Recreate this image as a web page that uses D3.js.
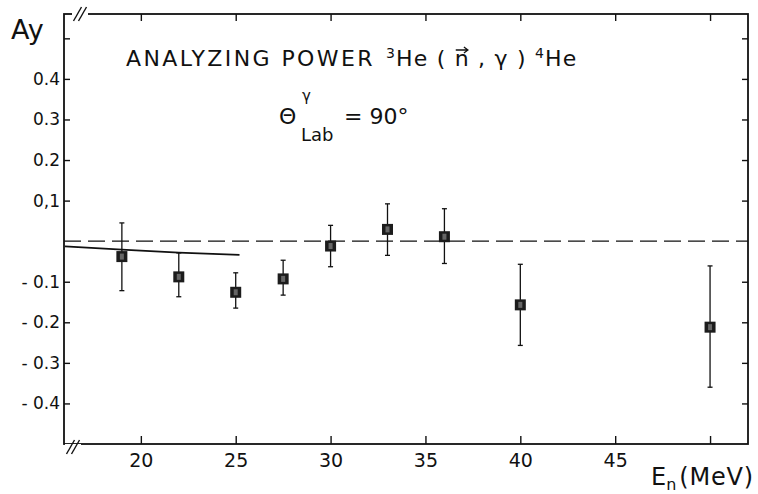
<!DOCTYPE html>
<html>
<head>
<meta charset="utf-8">
<script src="https://cdn.jsdelivr.net/npm/d3@7"></script>
<style>
  body { margin: 0; background: #fff; }
  text { font-family: "DejaVu Sans", sans-serif; fill: #111; }
</style>
</head>
<body>
<div id="chart"></div>
<script>
// neutron energy (MeV) and measured analyzing power with error bar ends
var energy = [19, 22, 25, 27.5, 30, 33, 36, 40, 50];
var ay = [-0.038, -0.088, -0.126, -0.093, -0.012, 0.029, 0.011, -0.157, -0.212];
var ayHigh = [0.045, -0.029, -0.078, -0.047, 0.039, 0.092, 0.080, -0.057, -0.061];
var ayLow = [-0.122, -0.137, -0.165, -0.133, -0.063, -0.035, -0.055, -0.257, -0.360];

// calculation (solid line)
var curveE = [16, 19, 22, 25.2];
var curveA = [-0.013, -0.021, -0.028, -0.034];

var xTicks = [20, 25, 30, 35, 40, 45, 50];
var xTickLabels = ["20", "25", "30", "35", "40", "45", ""];
var yTicks = [-0.4, -0.3, -0.2, -0.1, 0.1, 0.2, 0.3, 0.4, 0.5];
var yTickLabels = ["- 0.4", "- 0.3", "- 0.2", "- 0.1", "0,1", "0.2", "0.3", "0.4", ""];

var svgWidth = 758;
var svgHeight = 494;
var margin = { top: 14, right: 10, bottom: 50, left: 64 };
var width = svgWidth - margin.left - margin.right;
var height = svgHeight - margin.top - margin.bottom;

var svg = d3.select("#chart")
  .append("svg")
  .attr("width", svgWidth)
  .attr("height", svgHeight);

var chartGroup = svg.append("g")
  .attr("transform", `translate(${margin.left}, ${margin.top})`);

var x = d3.scaleLinear().domain([15.95, 52]).range([0, width]);
var y = d3.scaleLinear().domain([-0.5, 0.56]).range([height, 0]);

// axes, ticks pointing into the frame
var bottomAxis = d3.axisBottom(x).tickValues(xTicks)
  .tickSizeInner(-8).tickSizeOuter(0).tickPadding(10)
  .tickFormat((d, i) => xTickLabels[i]);
var topAxis = d3.axisTop(x).tickValues(xTicks)
  .tickSizeInner(-7).tickSizeOuter(0).tickFormat("");
var leftAxis = d3.axisLeft(y).tickValues(yTicks)
  .tickSizeInner(-6).tickSizeOuter(0).tickPadding(4)
  .tickFormat((d, i) => yTickLabels[i]);
var rightAxis = d3.axisRight(y).tickValues(yTicks)
  .tickSizeInner(-6).tickSizeOuter(0).tickFormat("");

function styleAxis(g, size) {
  g.select(".domain").remove();
  g.selectAll(".tick line").attr("stroke", "#111").attr("stroke-width", 1.4);
  g.selectAll(".tick text")
    .style("font-family", "DejaVu Sans, sans-serif")
    .style("font-size", size + "px")
    .attr("fill", "#111");
}

chartGroup.append("g").attr("transform", `translate(0, ${height})`)
  .call(bottomAxis).call(styleAxis, 19);
chartGroup.append("g").call(topAxis).call(styleAxis, 18);
chartGroup.append("g").call(leftAxis).call(styleAxis, 17);
chartGroup.append("g").attr("transform", `translate(${width}, 0)`)
  .call(rightAxis).call(styleAxis, 17);

// frame
chartGroup.append("rect")
  .attr("width", width)
  .attr("height", height)
  .attr("fill", "none")
  .attr("stroke", "#111")
  .attr("stroke-width", 1.8);

// axis break marks
function breakMark(cx, cy) {
  var g = chartGroup.append("g").attr("transform", `translate(${cx}, ${cy})`);
  g.append("rect").attr("x", -8).attr("y", -3).attr("width", 16).attr("height", 6).attr("fill", "#fff");
  [-2.5, 2.5].forEach(function (dx) {
    g.append("line")
      .attr("x1", dx - 4).attr("y1", 7)
      .attr("x2", dx + 4).attr("y2", -7)
      .attr("stroke", "#111").attr("stroke-width", 1.4);
  });
}
breakMark(16, 0);
breakMark(9, height + 3);

// zero line
chartGroup.append("line")
  .attr("x1", 0).attr("x2", width)
  .attr("y1", y(0)).attr("y2", y(0))
  .attr("stroke", "#111")
  .attr("stroke-width", 1.3)
  .attr("stroke-dasharray", "17,7");

// theory curve
var line = d3.line()
  .x((d, i) => x(curveE[i]))
  .y(d => y(d));
chartGroup.append("path")
  .datum(curveA)
  .attr("d", line)
  .attr("fill", "none")
  .attr("stroke", "#111")
  .attr("stroke-width", 1.8);

// error bars
var bars = chartGroup.selectAll(".err")
  .data(energy)
  .enter()
  .append("g")
  .attr("class", "err");

bars.append("line")
  .attr("x1", d => x(d)).attr("x2", d => x(d))
  .attr("y1", (d, i) => y(ayHigh[i]))
  .attr("y2", (d, i) => y(ayLow[i]))
  .attr("stroke", "#111").attr("stroke-width", 1.3);

[ayHigh, ayLow].forEach(function (arr) {
  bars.append("line")
    .attr("x1", d => x(d) - 2.5).attr("x2", d => x(d) + 2.5)
    .attr("y1", (d, i) => y(arr[i]))
    .attr("y2", (d, i) => y(arr[i]))
    .attr("stroke", "#111").attr("stroke-width", 1.3);
});

// data squares
var sq = 11;
bars.append("rect")
  .attr("x", d => x(d) - sq / 2)
  .attr("y", (d, i) => y(ay[i]) - sq / 2)
  .attr("width", sq)
  .attr("height", sq)
  .attr("fill", "#1c1c1c");
bars.append("rect")
  .attr("x", d => x(d) - 2)
  .attr("y", (d, i) => y(ay[i]) - 3)
  .attr("width", 4)
  .attr("height", 6)
  .attr("fill", "#666");

// labels
svg.append("text")
  .attr("x", 11).attr("y", 39)
  .style("font-size", "27px")
  .text("Ay");

svg.append("text")
  .attr("x", 126).attr("y", 66)
  .style("font-size", "22px")
  .style("letter-spacing", "2.4px")
  .text("ANALYZING POWER");

var reac = svg.append("text")
  .attr("x", 386).attr("y", 66)
  .style("font-size", "22px")
  .style("letter-spacing", "1.2px");
reac.append("tspan").attr("dy", -8).style("font-size", "14px").text("3");
reac.append("tspan").attr("dy", 8).text("He ( n , γ ) ");
reac.append("tspan").attr("dy", -8).style("font-size", "14px").text("4");
reac.append("tspan").attr("dy", 8).text("He");

// arrow over the n
var ext = reac.node().getExtentOfChar(6);
var ax0 = ext.x + 1, ax1 = ext.x + ext.width - 2, ay0 = ext.y + 4;
svg.append("path")
  .attr("d", `M${ax0},${ay0}L${ax1},${ay0}M${ax1 - 4},${ay0 - 3}L${ax1},${ay0}L${ax1 - 4},${ay0 + 3}`)
  .attr("fill", "none")
  .attr("stroke", "#111")
  .attr("stroke-width", 1.3);

svg.append("text").attr("x", 279).attr("y", 124).style("font-size", "22px").text("Θ");
svg.append("text").attr("x", 302).attr("y", 101).style("font-size", "15px").text("γ");
svg.append("text").attr("x", 301).attr("y", 141).style("font-size", "18px").text("Lab");
svg.append("text").attr("x", 344).attr("y", 124).style("font-size", "22px").text("= 90°");

var en = svg.append("text")
  .attr("x", 651).attr("y", 485)
  .style("font-size", "24px");
en.append("tspan").text("E");
en.append("tspan").attr("dy", 5).style("font-size", "16px").text("n");
en.append("tspan").attr("dy", -5).attr("dx", 3).style("letter-spacing", "0.8px").text("(MeV)");
</script>
</body>
</html>
